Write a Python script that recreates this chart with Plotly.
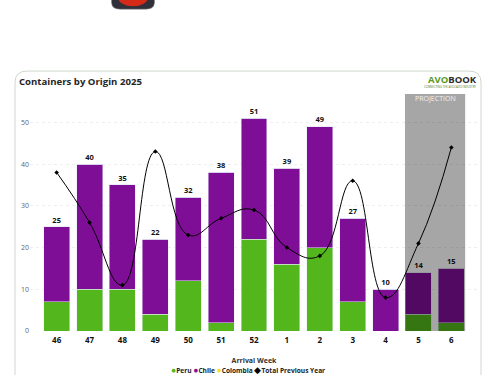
import plotly.graph_objects as go

weeks = ["46","47","48","49","50","51","52","1","2","3","4","5","6"]
peru = [7,10,10,4,12,2,22,16,20,7,0,4,2]
chile = [18,30,25,18,20,36,29,23,29,20,10,10,13]
colombia = [0]*13
prev_year = [38,26,11,43,23,27,29,20,18,36,8,21,44]
totals = [25,40,35,22,32,38,51,39,49,27,10,14,15]
legend_items = [("Peru","#52B61C","●"),("Chile","#7F0E96","●"),
                ("Colombia","#F5E11E","●"),("Total Previous Year","#000000","◆")]

W, H = 500, 375
L, R, T, B = 30, 22, 93.5, 44
FONT = "Open Sans"
def px(x): return (x - L) / (W - L - R)
def py(y): return (H - B - y) / (H - T - B)

fig = go.Figure()
fig.add_bar(x=weeks, y=peru, name="Peru", marker_color="#52B61C", showlegend=False, width=0.79)
fig.add_bar(x=weeks, y=chile, name="Chile", marker_color="#7F0E96", showlegend=False, width=0.79)
fig.add_bar(x=weeks, y=colombia, name="Colombia", marker_color="#F5E11E", showlegend=False, width=0.79)
fig.add_scatter(x=weeks, y=prev_year, name="Total Previous Year", mode="lines+markers", showlegend=False, cliponaxis=False,
                line=dict(color="#000000", width=1, shape="spline", smoothing=1.3),
                marker=dict(symbol="diamond", size=3.5, color="#000000"))
fig.add_scatter(x=weeks, y=totals, mode="markers+text", text=[str(t) for t in totals], textposition="top center",
                showlegend=False, cliponaxis=False, marker=dict(size=2, opacity=0),
                textfont=dict(family=FONT, size=7.5, color="#111111", weight="bold"))

card = (f"M {px(15)} {py(375+20)} L {px(15)} {py(82)} Q {px(15)} {py(70.5)} {px(27)} {py(70.5)} "
        f"L {px(469)} {py(70.5)} Q {px(481)} {py(70.5)} {px(481)} {py(82)} L {px(481)} {py(375+20)}")
icon = (f"M {px(111.5)} {py(-2)} L {px(111.5)} {py(2)} Q {px(112)} {py(8.5)} {px(120)} {py(8.5)} "
        f"L {px(146)} {py(8.5)} Q {px(154)} {py(8.5)} {px(154.5)} {py(2)} L {px(154.5)} {py(-2)} Z")
shapes = [
    dict(type="path", path=card, xref="paper", yref="paper", layer="below",
         line=dict(color="#CFD8CC", width=1), fillcolor="#FFFFFF"),
    dict(type="path", path=icon, xref="paper", yref="paper", layer="below",
         line=dict(color="#888888", width=0.5), fillcolor="#30303A"),
    dict(type="circle", xref="paper", yref="paper", layer="below",
         x0=px(118), x1=px(148), y0=py(5.5), y1=py(-12), line_width=0, fillcolor="#D42A18"),
    dict(type="rect", xref="x", yref="paper", layer="above", x0=10.59, x1=12.42, y0=0, y1=1,
         line_width=0, fillcolor="rgba(0,0,0,0.35)"),
]
legend_text = " ".join(f"<span style='color:{c};font-size:8.5px'>{g}</span><b>{n}</b>" for n, c, g in legend_items)
annotations = [
    dict(xref="paper", yref="paper", x=px(17), y=py(80.5), text="<b>Containers by Origin 2025</b>",
         showarrow=False, xanchor="left", yanchor="middle", font=dict(family=FONT, size=9.6, color="#252525")),
    dict(xref="x", yref="paper", x=11.505, y=py(98.5), text="PROJECTION", showarrow=False,
         xanchor="center", yanchor="middle", font=dict(family=FONT, size=7, color="#F2F2F2")),
    dict(xref="paper", yref="paper", x=px(479), y=py(79),
         text="<b><span style='color:#5A9A1E'>AVO</span><span style='color:#2B2B2B'>BOOK</span></b>",
         showarrow=False, xanchor="right", yanchor="middle", font=dict(family=FONT, size=9.5)),
    dict(xref="paper", yref="paper", x=px(478), y=py(86.5), text="CONNECTING THE AVOCADO INDUSTRY",
         showarrow=False, xanchor="right", yanchor="middle", font=dict(family=FONT, size=2.8, color="#4C7A2A")),
    dict(xref="paper", yref="paper", x=px(247.5), y=py(369.5), text=legend_text, showarrow=False,
         xanchor="center", yanchor="middle", font=dict(family=FONT, size=6.6, color="#222222")),
]
fig.update_layout(
    width=W, height=H, autosize=False, barmode="stack", showlegend=False,
    margin=dict(l=L, r=R, t=T, b=B, pad=0),
    paper_bgcolor="#FFFFFF", plot_bgcolor="rgba(0,0,0,0)",
    font=dict(family=FONT),
    shapes=shapes, annotations=annotations,
)
fig.update_xaxes(type="category", categoryorder="array", categoryarray=weeks, range=[-0.81, 12.81],
                 showgrid=False, zeroline=False, showline=False, ticks="", automargin=False,
                 ticklabelstandoff=3,
                 tickfont=dict(family=FONT, size=8, color="#111111", weight="bold"),
                 title=dict(text="<b>Arrival Week</b>", standoff=14,
                            font=dict(family=FONT, size=7, color="#333333")))
fig.update_yaxes(range=[0, 56.8], tickvals=[0,10,20,30,40,50], showgrid=True, automargin=False,
                 gridcolor="#EEEEEE", griddash="dot", gridwidth=1, zeroline=False, showline=False,
                 tickfont=dict(family=FONT, size=7, color="#666666"), ticks="")
fig.write_html("out.html", config=dict(displayModeBar=False),
               post_script="document.body.style.margin='0';document.documentElement.style.overflow='hidden';")
